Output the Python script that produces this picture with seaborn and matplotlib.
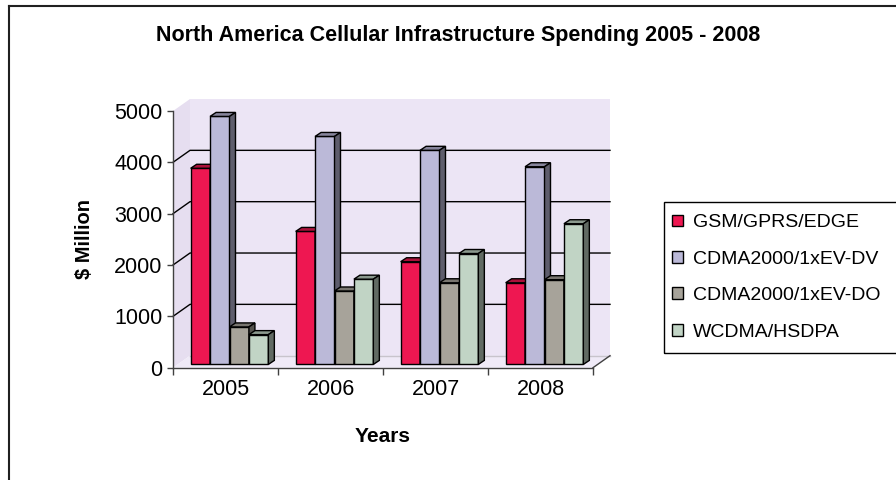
import numpy as np
import pandas as pd
import matplotlib
matplotlib.use("Agg")
import matplotlib.pyplot as plt
import seaborn as sns
from matplotlib.patches import Polygon, Rectangle
from matplotlib.lines import Line2D
from matplotlib.transforms import ScaledTranslation

# ---------------- data ----------------
years = ["2005", "2006", "2007", "2008"]
series = ["GSM/GPRS/EDGE", "CDMA2000/1xEV-DV", "CDMA2000/1xEV-DO", "WCDMA/HSDPA"]
gsm = [3820, 2590, 2000, 1590]
cdma_dv = [4830, 4440, 4170, 3850]
cdma_do = [730, 1430, 1590, 1650]
wcdma = [580, 1660, 2160, 2740]
colors = ["#EE1751", "#BBB9D8", "#A7A39A", "#C1D4C5"]

title = "North America Cellular Infrastructure Spending 2005 - 2008"
xlabel = "Years"
ylabel = "$ Million"

df = pd.DataFrame({
    "Year": years * 4,
    "Series": sum([[s] * 4 for s in series], []),
    "Value": gsm + cdma_dv + cdma_do + wcdma,
})

plt.rcParams["font.family"] = ["Liberation Sans", "DejaVu Sans"]
W, H, DPI = 896, 480, 100
fig = plt.figure(figsize=(W / DPI, H / DPI), dpi=DPI)

# axes (front plane)
x0px, x1px, y0px, y1px = 173, 593, 367.7, 111.0
ax = fig.add_axes([x0px / W, 1 - y0px / H, (x1px - x0px) / W, (y0px - y1px) / H])

sns.barplot(data=df, x="Year", y="Value", hue="Series", palette=colors,
            hue_order=series, order=years, width=0.74, edgecolor="black",
            linewidth=1.0, saturation=1, ax=ax, err_kws={"linewidth": 0})
bars = sorted([p for p in ax.patches], key=lambda p: p.get_x())

ax.set_xlim(-0.5, 3.5)
ax.set_ylim(0, 5000)
ax.patch.set_visible(False)

sx = 4.0 / (x1px - x0px)      # data units per pixel (x)
sy = 5000.0 / (y0px - y1px)   # data units per pixel (y)

# 3D wall geometry (pixels)
wdx, wdy = 17, 12
wall = "#ECE5F5"
xl, xr = -0.5, 3.5
ax.add_patch(Polygon([(xl + wdx * sx, wdy * sy), (xr + wdx * sx, wdy * sy),
                      (xr + wdx * sx, 5000 + wdy * sy), (xl + wdx * sx, 5000 + wdy * sy)],
                     closed=True, facecolor=wall, edgecolor="none", zorder=0.5, clip_on=False))
ax.add_patch(Polygon([(xl, 0), (xl + wdx * sx, wdy * sy), (xl + wdx * sx, 5000 + wdy * sy),
                      (xl, 5000)], closed=True, facecolor="#E6DEF0", edgecolor="none",
                     zorder=0.5, clip_on=False))
ax.add_patch(Polygon([(xl, 0), (xr, 0), (xr + wdx * sx, wdy * sy), (xl + wdx * sx, wdy * sy)],
                     closed=True, facecolor="#EFEAF7", edgecolor="none", zorder=0.6, clip_on=False))
ax.plot([xl + wdx * sx, xr + wdx * sx], [wdy * sy, wdy * sy], color="#C8C4CC", lw=1,
        zorder=0.7, clip_on=False)
ax.plot([xr, xr + wdx * sx], [0, wdy * sy], color="#404040", lw=1, zorder=0.7, clip_on=False)

yticks = [0, 1000, 2000, 3000, 4000, 5000]
for v in yticks[1:-1]:
    ax.plot([xl, xl + wdx * sx, xr + wdx * sx], [v, v + wdy * sy, v + wdy * sy],
            color="black", lw=1, zorder=0.8, clip_on=False)

# 3D bars: shift front faces, add side and top faces
fdx, fdy = 4.0, 3.3
ddx, ddy = 6.0, 4.0
off = ScaledTranslation(fdx / DPI, fdy / DPI, fig.dpi_scale_trans)


def shade(c, f):
    r, g, b = matplotlib.colors.to_rgb(c)
    return (r * f, g * f, b * f)


for i, p in enumerate(bars):
    z = 3 + i * 0.01
    p.set_transform(ax.transData + off)
    p.set_zorder(z)
    p.set_clip_on(False)
    fc = p.get_facecolor()
    bx = p.get_x() + fdx * sx
    bw = p.get_width()
    by = fdy * sy
    top = p.get_height() + fdy * sy
    dx, dy = ddx * sx, ddy * sy
    ax.add_patch(Polygon([(bx, top), (bx + bw, top), (bx + bw + dx, top + dy), (bx + dx, top + dy)],
                         closed=True, facecolor=shade(fc, 0.72), edgecolor="black",
                         lw=1.0, zorder=z, clip_on=False))
    ax.add_patch(Polygon([(bx + bw, by), (bx + bw + dx, by + dy), (bx + bw + dx, top + dy),
                          (bx + bw, top)], closed=True, facecolor=shade(fc, 0.5),
                         edgecolor="black", lw=1.0, zorder=z, clip_on=False))

# axes styling
for s in ["top", "right"]:
    ax.spines[s].set_visible(False)
for s in ["left", "bottom"]:
    ax.spines[s].set_color("#404040")
    ax.spines[s].set_linewidth(1.0)
    ax.spines[s].set_zorder(2)

ax.set_yticks(yticks)
ax.set_yticklabels([str(v) for v in yticks])
ax.tick_params(axis="y", direction="out", length=4.5, width=1, color="#404040",
               labelsize=15.5, pad=3)
ax.set_xticks([-0.5, 0.5, 1.5, 2.5, 3.5])
ax.set_xticklabels([])
ax.set_xticks(range(len(years)), minor=True)
ax.set_xticklabels(years, minor=True)
ax.tick_params(axis="x", which="major", direction="out", length=5, width=1, color="#404040")
ax.tick_params(axis="x", which="minor", length=0, labelsize=15.5, pad=8)

ax.set_xlabel(xlabel, fontsize=15, fontweight="bold")
ax.xaxis.label.set_va("center")
ax.xaxis.set_label_coords(0.5, (y0px - 436) / (y0px - y1px))
ax.set_ylabel(ylabel, fontsize=14.5, fontweight="bold")
ax.yaxis.label.set_va("center")
ax.yaxis.set_label_coords((85 - x0px) / (x1px - x0px), 0.5)

fig.text(458.5 / W, 1 - 40.7 / H, title, ha="center", va="baseline",
         fontsize=15.5, fontweight="bold")

# legend
sns.move_legend(ax, "center left", bbox_to_anchor=(672 / W, 1 - 277.5 / H),
                bbox_transform=fig.transFigure, title=None, frameon=False,
                fontsize=14, handlelength=0.55, handleheight=0.55, handletextpad=0.55,
                labelspacing=1.0, borderpad=0, borderaxespad=0)
leg = ax.get_legend()
for h in leg.legend_handles:
    h.set_edgecolor("black")
    h.set_linewidth(1.0)
fig.patches.append(Rectangle((664 / W, 1 - 353 / H), 0.5, (353 - 202) / H, transform=fig.transFigure,
                             facecolor="none", edgecolor="black", lw=1.0, figure=fig))

# outer frame
fig.add_artist(Line2D([8.5 / W, 8.5 / W], [0, 1 - 5.5 / H], transform=fig.transFigure,
                      color="#202020", lw=1.5))
fig.add_artist(Line2D([8.5 / W, 1], [1 - 5.5 / H, 1 - 5.5 / H], transform=fig.transFigure,
                      color="#202020", lw=1.5))

fig.savefig("out.png", dpi=DPI, facecolor="white")
